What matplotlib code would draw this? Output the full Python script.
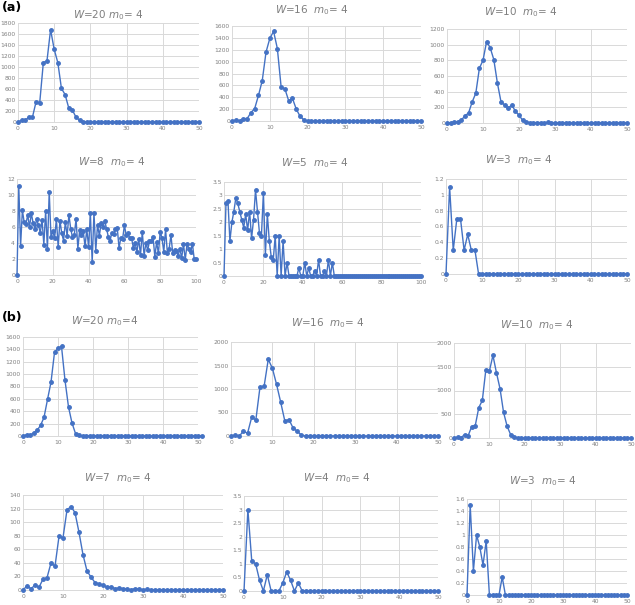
import matplotlib
matplotlib.use("Agg")
import matplotlib.pyplot as plt
from matplotlib.ticker import FuncFormatter, MultipleLocator

# ---------------- data ----------------
a1_W20 = [0, 30, 30, 90, 90, 370, 350, 1080, 1110, 1680, 1320, 1080, 610, 500, 260, 220, 90, 30,
          0, 0, 0, 0, 0, 0, 0, 0, 0, 0, 0, 0, 0, 0, 0, 0, 0, 0, 0, 0, 0, 0, 0, 0, 0, 0, 0, 0, 0, 0, 0, 0, 0]
a2_W16 = [0, 15, 5, 40, 40, 140, 210, 430, 680, 1160, 1390, 1510, 1220, 570, 540, 340, 380, 200, 80, 20,
          0, 0, 0, 0, 0, 0, 0, 0, 0, 0, 0, 0, 0, 0, 0, 0, 0, 0, 0, 0, 0, 0, 0, 0, 0, 0, 0, 0, 0, 0, 0]
a3_W10 = [0, 5, 10, 15, 40, 90, 130, 270, 380, 700, 800, 1040, 960, 810, 510, 270, 230, 190, 230, 150,
          100, 35, 15, 5, 5, 5, 5, 3, 8, 3,
          0, 0, 0, 0, 0, 0, 0, 0, 0, 0, 0, 0, 0, 0, 0, 0, 0, 0, 0, 0, 0]
a4_W8 = [0, 11.1, 3.6, 8.1, 6.6, 6.4, 7.5, 6.0, 7.7, 6.5, 5.8, 7.0, 6.2, 5.3, 6.9, 3.8, 8.0, 3.3, 10.4, 4.7,
         5.5, 4.6, 7.0, 3.5, 6.8, 5.2, 4.3, 6.6, 4.9, 7.5, 5.8, 4.7, 5.0, 7.0, 3.3, 5.6, 5.0, 5.5, 3.6, 5.7,
         3.5, 7.7, 1.6, 7.8, 3.0, 6.3, 4.9, 6.5, 6.0, 6.8, 5.8, 4.8, 4.3, 5.3, 5.1, 5.8, 5.9, 3.4, 4.6, 4.5,
         6.2, 5.0, 5.2, 4.6, 4.6, 3.4, 4.0, 2.9, 4.5, 2.5, 5.4, 2.4, 4.0, 3.1, 4.2, 4.3, 4.8, 2.3, 4.1, 2.7,
         5.4, 4.6, 2.9, 5.7, 2.8, 3.3, 5.0, 2.7, 3.1, 3.0, 2.4, 3.3, 2.1, 3.9, 1.9, 3.9, 3.2, 2.9, 3.9, 2.0, 2.0]
a5_W5 = [0, 2.7, 2.8, 1.3, 2.0, 2.4, 2.9, 2.7, 2.4, 2.1, 1.8, 2.3, 1.7, 2.4, 1.4, 2.1, 3.2, 2.4, 1.6, 1.5,
         3.1, 0.8, 2.3, 1.3, 0.7, 0.6, 1.5, 0, 1.5, 0, 1.3, 0, 0.5, 0, 0, 0, 0, 0, 0.3, 0,
         0, 0.5, 0, 0.3, 0, 0, 0.2, 0, 0.6, 0, 0, 0.2, 0, 0.6, 0, 0.5,
         0, 0, 0, 0, 0, 0, 0, 0, 0, 0, 0, 0, 0, 0, 0, 0, 0, 0, 0, 0, 0, 0, 0, 0, 0, 0, 0, 0, 0, 0,
         0, 0, 0, 0, 0, 0, 0, 0, 0, 0, 0, 0, 0, 0, 0]
a6_W3 = [0, 1.1, 0.3, 0.7, 0.7, 0.3, 0.5, 0.3, 0.3, 0,
         0, 0, 0, 0, 0, 0, 0, 0, 0, 0, 0, 0, 0, 0, 0, 0, 0, 0, 0, 0, 0, 0, 0, 0, 0, 0, 0, 0, 0, 0,
         0, 0, 0, 0, 0, 0, 0, 0, 0, 0, 0]
b1_W20 = [0, 20, 10, 50, 90, 170, 300, 590, 870, 1350, 1420, 1450, 900, 470, 210, 40, 10,
          0, 0, 0, 0, 0, 0, 0, 0, 0, 0, 0, 0, 0, 0, 0, 0, 0, 0, 0, 0, 0, 0, 0, 0, 0, 0, 0, 0, 0, 0, 0, 0, 0, 0, 0]
b2_W16 = [0, 20, 0, 100, 60, 400, 340, 1040, 1060, 1630, 1440, 1100, 720, 320, 350, 170, 100, 20,
          0, 0, 0, 0, 0, 0, 0, 0, 0, 0, 0, 0, 0, 0, 0, 0, 0, 0, 0, 0, 0, 0, 0, 0, 0, 0, 0, 0, 0, 0, 0, 0, 0]
b3_W10 = [0, 20, 10, 70, 50, 240, 260, 640, 790, 1440, 1410, 1740, 1370, 1040, 540, 250, 70, 30,
          0, 0, 0, 0, 0, 0, 0, 0, 0, 0, 0, 0, 0, 0, 0, 0, 0, 0, 0, 0, 0, 0, 0, 0, 0, 0, 0, 0, 0, 0, 0, 0, 0]
b4_W7 = [0, 6, 2, 7, 4, 16, 18, 40, 35, 79, 77, 118, 123, 114, 85, 52, 28, 19, 11, 9,
         7, 4, 5, 2, 3, 2, 1.5, 0.5, 2, 1.5, 0.5, 1,
         0.3, 0.3, 0.3, 0.3, 0.3, 0.3, 0.3, 0.3, 0.3, 0.3, 0.3, 0.3, 0.3, 0.3, 0.3, 0.3, 0.3, 0.3, 0.3]
b5_W4 = [0, 3.0, 1.1, 1.0, 0.4, 0, 0.6, 0, 0, 0, 0.3, 0.7, 0.4, 0, 0.3,
         0, 0, 0, 0, 0, 0, 0, 0, 0, 0, 0, 0, 0, 0, 0, 0, 0, 0, 0, 0, 0, 0, 0, 0, 0, 0, 0, 0, 0, 0, 0, 0, 0, 0, 0, 0]
b6_W3 = [0, 1.5, 0.4, 1.0, 0.8, 0.5, 0.9, 0, 0, 0, 0, 0.3,
         0, 0, 0, 0, 0, 0, 0, 0, 0, 0, 0, 0, 0, 0, 0, 0, 0, 0, 0, 0, 0, 0, 0, 0, 0, 0, 0, 0, 0, 0, 0, 0, 0, 0, 0, 0, 0, 0, 0]

titles = [r"$W$=20 $m_0$= 4", r"$W$=16  $m_0$= 4", r"$W$=10  $m_0$= 4",
          r"$W$=8  $m_0$= 4", r"$W$=5  $m_0$= 4", r"$W$=3  $m_0$= 4",
          r"$W$=20 $m_0$=4", r"$W$=16  $m_0$= 4", r"$W$=10  $m_0$= 4",
          r"$W$=7  $m_0$= 4", r"$W$=4  $m_0$= 4", r"$W$=3  $m_0$= 4"]
series = [a1_W20, a2_W16, a3_W10, a4_W8, a5_W5, a6_W3,
          b1_W20, b2_W16, b3_W10, b4_W7, b5_W4, b6_W3]
ymax = [1800, 1600, 1200, 12, 3.5, 1.2, 1600, 2000, 2000, 140, 3.5, 1.6]
ystep = [200, 200, 200, 2, 0.5, 0.2, 200, 500, 500, 20, 0.5, 0.2]
xmax = [50, 50, 50, 100, 100, 50, 50, 50, 50, 50, 50, 50]
xstep = [10, 10, 10, 20, 20, 10, 10, 10, 10, 10, 10, 10]

# ---------------- layout (pixel boxes) ----------------
W, H = 635, 605
boxes = [(18, 199, 23, 122), (232, 421, 26, 121), (447, 627, 29, 123),
         (17, 196, 179, 275), (224, 421, 182, 276), (446, 627, 179, 274),
         (23, 198, 337, 436), (231, 438, 342, 436), (454, 631, 343, 438),
         (23, 223, 495, 590), (244, 438, 496, 591), (467, 627, 499, 595)]
title_pos = [(108, 15), (312, 10), (521, 12), (112, 162), (315, 163), (519, 160),
             (105, 321), (328, 323), (537, 325), (118, 478), (337, 478), (543, 481)]

plt.rcParams['mathtext.fontset'] = 'dejavusans'
fig = plt.figure(figsize=(W / 100, H / 100), dpi=100)
blue = '#4472C4'
grid_c = '#d9d9d9'
tick_c = '#808080'

for i, ys in enumerate(series):
    x0, x1, y0, y1 = boxes[i]
    ax = fig.add_axes([x0 / W, 1 - y1 / H, (x1 - x0) / W, (y1 - y0) / H])
    xs = list(range(len(ys)))
    ax.plot(xs, ys, color=blue, lw=1.0, marker='o', ms=2.5, mec=blue, mfc=blue, clip_on=False, zorder=3)
    ax.set_xlim(0, xmax[i])
    ax.set_ylim(0, ymax[i])
    ax.xaxis.set_major_locator(MultipleLocator(xstep[i]))
    ax.yaxis.set_major_locator(MultipleLocator(ystep[i]))
    ax.yaxis.set_major_formatter(FuncFormatter(lambda v, p: f"{v:g}"))
    ax.xaxis.set_major_formatter(FuncFormatter(lambda v, p: f"{v:g}"))
    ax.grid(True, color=grid_c, lw=0.7)
    ax.set_axisbelow(True)
    for s in ['top', 'right', 'left']:
        ax.spines[s].set_visible(False)
    ax.spines['bottom'].set_color(grid_c)
    ax.spines['bottom'].set_linewidth(0.7)
    ax.tick_params(axis='y', length=0, labelsize=4.3, colors=tick_c, pad=1.5)
    ax.tick_params(axis='x', length=0, labelsize=4.3, colors=tick_c, pad=3)
    tx, ty = title_pos[i]
    fig.text(tx / W, 1 - ty / H, titles[i], ha='center', va='center', fontsize=7.5, color='#7f7f7f')

fig.text(2 / W, 1 - 8 / H, "(a)", ha='left', va='center', fontsize=9, fontweight='bold')
fig.text(2 / W, 1 - 317 / H, "(b)", ha='left', va='center', fontsize=9, fontweight='bold')

fig.savefig("out.png", dpi=100)
